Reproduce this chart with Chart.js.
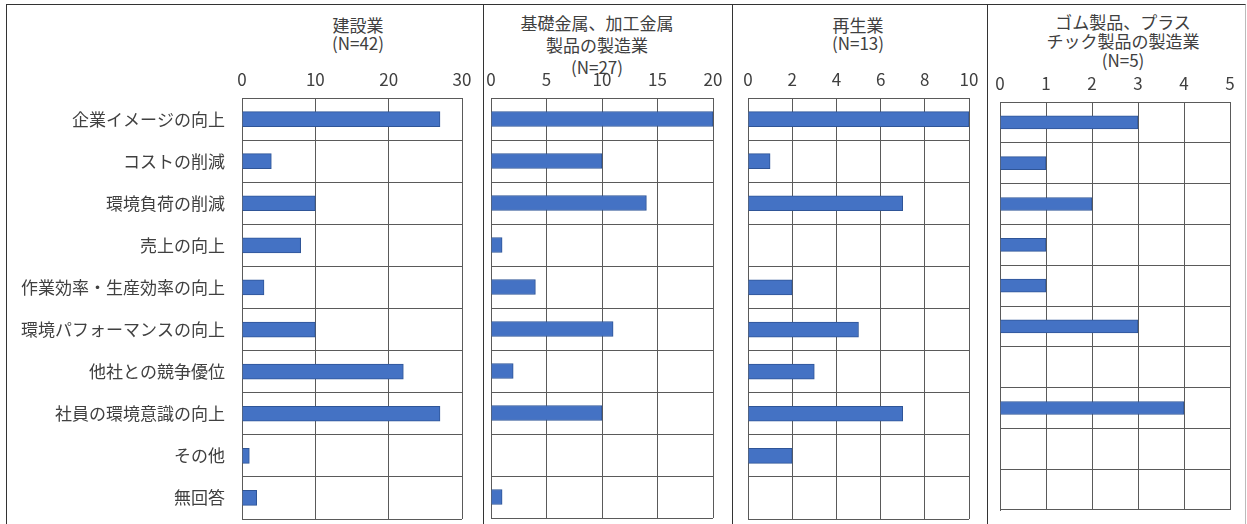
<!DOCTYPE html>
<html lang="ja">
<head>
<meta charset="utf-8">
<title>環境配慮の効果</title>
<script src="https://cdn.jsdelivr.net/npm/chart.js@4"></script>
<style>
  html, body { margin: 0; padding: 0; background: #fff; }
  #wrap { position: relative; width: 1247px; height: 524px; overflow: hidden; background: #fff;
          font-family: "Noto Sans CJK JP", "Noto Sans", sans-serif; color: #404040; }
  .frame { position: absolute; left: 6px; top: 4px; width: 1238px; height: 530px;
           border-top: 1px solid #333; border-left: 1px solid #333; border-right: 1px solid #bbb; }
  .sep { position: absolute; top: 4px; width: 1px; height: 520px; background: #333; }
  .ttl { position: absolute; width: 240px; text-align: center; font-size: 17px; }
  canvas { position: absolute; top: 0; }
</style>
</head>
<body>
<div id="wrap">
  <div class="frame"></div>
  <div class="sep" style="left:483px"></div>
  <div class="sep" style="left:732px"></div>
  <div class="sep" style="left:987px"></div>

  <div class="ttl" style="left:238px; top:16px; line-height:18px">建設業<br>(N=42)</div>
  <div class="ttl" style="left:477px; top:12px; line-height:22px">基礎金属、加工金属<br>製品の製造業<br>(N=27)</div>
  <div class="ttl" style="left:738px; top:16px; line-height:18px">再生業<br>(N=13)</div>
  <div class="ttl" style="left:1003px; top:12px; line-height:19px">ゴム製品、プラス<br>チック製品の製造業<br>(N=5)</div>

  <canvas id="c1" width="483" height="524" style="left:0px"></canvas>
  <canvas id="c2" width="249" height="524" style="left:483px"></canvas>
  <canvas id="c3" width="255" height="524" style="left:732px"></canvas>
  <canvas id="c4" width="260" height="524" style="left:987px"></canvas>
</div>

<script>
// categories (same order in every panel)
const categories = ['企業イメージの向上', 'コストの削減', '環境負荷の削減', '売上の向上',
  '作業効率・生産効率の向上', '環境パフォーマンスの向上', '他社との競争優位',
  '社員の環境意識の向上', 'その他', '無回答'];

// counts per industry
const construction = [27, 4, 10, 8, 3, 10, 22, 27, 1, 2];   // 建設業 N=42
const metal        = [20, 10, 14, 1, 4, 11, 2, 10, 0, 1];   // 基礎金属、加工金属製品 N=27
const recycle      = [10, 1, 7, 0, 2, 5, 3, 7, 2, 0];       // 再生業 N=13
const rubber       = [3, 1, 2, 1, 1, 3, 0, 4, 0, 0];        // ゴム製品、プラスチック製品 N=5

// axis ranges
const axisMax  = [30, 20, 10, 5];
const axisStep = [10, 5, 2, 1];

const FONT = '"Noto Sans CJK JP", "Noto Sans", sans-serif';
const TEXT = '#404040';
const GRID = '#5a5a5a';

function makePanel(id, values, idx, box) {
  const ctx = document.getElementById(id).getContext('2d');
  return new Chart(ctx, {
    type: 'bar',
    data: {
      labels: categories,
      datasets: [{
        data: values,
        backgroundColor: '#4472C4',
        borderColor: '#2F5597',
        borderWidth: 1,
        barThickness: box.bar
      }]
    },
    options: {
      indexAxis: 'y',
      responsive: false,
      animation: false,
      layout: { padding: { left: 0, top: 0, right: box.right, bottom: box.bottom } },
      plugins: { legend: { display: false }, tooltip: { enabled: false } },
      scales: {
        x: {
          position: 'top',
          min: 0,
          max: axisMax[idx],
          ticks: { stepSize: axisStep[idx], color: TEXT, padding: 8, font: { family: FONT, size: 17 } },
          grid: { color: GRID, lineWidth: 1, drawTicks: false },
          border: { color: GRID },
          // pin the plot area: no extra room for the end labels
          afterFit: s => { s.height = box.top; s.paddingLeft = 0; s.paddingRight = 0; }
        },
        y: {
          ticks: { display: idx === 0, color: TEXT, padding: 17, font: { family: FONT, size: 17 } },
          grid: { color: GRID, lineWidth: 1, drawTicks: false },
          border: { color: GRID },
          afterFit: s => { s.width = box.left; s.paddingTop = 0; s.paddingBottom = 0; }
        }
      }
    }
  });
}

makePanel('c1', construction, 0, { left: 242, right: 21, top: 98, bottom: 5, bar: 15 });
makePanel('c2', metal,        1, { left: 8,   right: 19, top: 98, bottom: 6, bar: 15 });
makePanel('c3', recycle,      2, { left: 16,  right: 18, top: 98, bottom: 5, bar: 15 });
makePanel('c4', rubber,       3, { left: 13,  right: 17, top: 102, bottom: 14, bar: 13 });
</script>
</body>
</html>
